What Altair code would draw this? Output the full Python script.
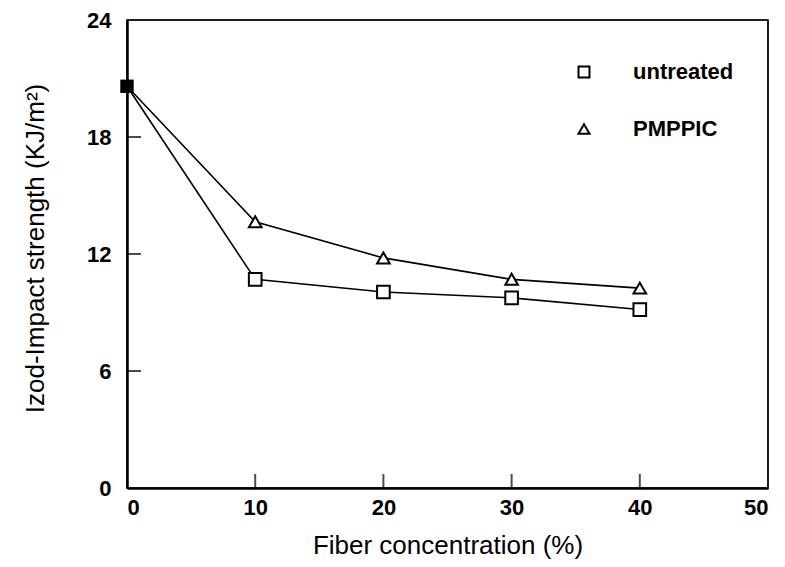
import altair as alt
import pandas as pd

conc = [0, 10, 20, 30, 40]
untreated = [20.6, 10.7, 10.05, 9.75, 9.15]
pmppic = [20.6, 13.65, 11.8, 10.7, 10.25]
series_names = ["untreated", "PMPPIC"]
x_ticks = [0, 10, 20, 30, 40, 50]
y_ticks = [0, 6, 12, 18, 24]

rows = []
for name, vals in zip(series_names, [untreated, pmppic]):
    for c, v in zip(conc, vals):
        rows.append({"series": name, "conc": c, "value": v})
df = pd.DataFrame(rows)

W, H = 641, 468
FONT = "Liberation Sans"
TL = 14

xs = alt.Scale(domain=[0, 50], nice=False, zero=False)
ys = alt.Scale(domain=[0, 24], nice=False, zero=False)

x_axis = alt.Axis(values=x_ticks, format="d", title="Fiber concentration (%)", ticks=False, grid=False,
                  labelFontSize=22, labelFontWeight="bold", labelFont=FONT, labelPadding=9,
                  titleFontSize=26, titleFont=FONT, titleFontWeight="normal", titlePadding=14,
                  domainWidth=2.5, domainColor="black", labelColor="black", titleColor="black")
y_axis = alt.Axis(values=y_ticks, format="d", title="Izod-Impact strength (KJ/m²)", ticks=False, grid=False,
                  labelFontSize=22, labelFontWeight="bold", labelFont=FONT, labelPadding=16,
                  titleFontSize=26, titleFont=FONT, titleFontWeight="normal",
                  titleX=-92, titleY=228, titleBaseline="middle", titleAngle=270,
                  domainWidth=2.5, domainColor="black", labelColor="black", titleColor="black")

shape_scale = alt.Scale(domain=series_names, range=["square", "triangle-up"])

# frame: top and right edges
top_edge = alt.Chart(pd.DataFrame({"pos": [y_ticks[-1]]})).mark_tick(
    color="black", thickness=1.6, size=W, orient="horizontal").encode(
    y=alt.Y("pos:Q", scale=ys), x=alt.value(W / 2))
right_edge = alt.Chart(pd.DataFrame({"pos": [x_ticks[-1]]})).mark_tick(
    color="black", thickness=1.6, size=H, orient="vertical").encode(
    x=alt.X("pos:Q", scale=xs), y=alt.value(H / 2))

# inward tick marks
xt = alt.Chart(pd.DataFrame({"pos": x_ticks[1:-1]})).mark_tick(
    color="black", thickness=2, size=TL, orient="vertical").encode(
    x=alt.X("pos:Q", scale=xs), y=alt.value(H - TL / 2))
yt = alt.Chart(pd.DataFrame({"pos": y_ticks[1:-1]})).mark_tick(
    color="black", thickness=2, size=TL, orient="horizontal").encode(
    y=alt.Y("pos:Q", scale=ys), x=alt.value(TL / 2))

lines = alt.Chart(df).mark_line(color="black", strokeWidth=1.6).encode(
    x=alt.X("conc:Q", scale=xs, axis=x_axis),
    y=alt.Y("value:Q", scale=ys, axis=y_axis),
    detail="series:N",
)

bg_sq = alt.Chart(df).transform_filter("datum.conc > 0 && datum.series == 'untreated'").mark_point(
    shape="square", filled=True, color="white", size=160, opacity=1
).encode(x=alt.X("conc:Q", scale=xs), y=alt.Y("value:Q", scale=ys))
bg_tr = alt.Chart(df).transform_filter("datum.conc > 0 && datum.series == 'PMPPIC'").mark_point(
    shape="triangle-up", filled=True, color="white", size=160, opacity=1
).encode(x=alt.X("conc:Q", scale=xs), y=alt.Y("value:Q", scale=ys))

pts = alt.Chart(df).transform_filter("datum.conc > 0").mark_point(
    filled=False, color="black", strokeWidth=2, size=160, opacity=1
).encode(
    x=alt.X("conc:Q", scale=xs),
    y=alt.Y("value:Q", scale=ys),
    shape=alt.Shape("series:N", scale=shape_scale, sort=series_names,
                    legend=alt.Legend(title=None, orient="none", legendX=446, legendY=41,
                                      labelFontSize=22, labelFont=FONT, labelFontWeight="bold",
                                      labelColor="black", symbolSize=120, symbolStrokeWidth=2,
                                      symbolStrokeColor="black", symbolOpacity=1,
                                      rowPadding=35, labelOffset=38)),
)

start = alt.Chart(df).transform_filter("datum.conc == 0 && datum.series == 'untreated'").mark_point(
    shape="square", filled=True, color="black", size=180, opacity=1
).encode(x=alt.X("conc:Q", scale=xs), y=alt.Y("value:Q", scale=ys))

chart = alt.layer(lines, top_edge, right_edge, xt, yt, bg_sq, bg_tr, pts, start).properties(
    width=W, height=H,
    background="white",
    autosize=alt.AutoSizeParams(type="none"),
    padding={"left": 127, "top": 20, "right": 17, "bottom": 79},
).configure_view(stroke="black", strokeWidth=1.5)

chart.save("out.html", embed_options={"renderer": "svg", "actions": False})
